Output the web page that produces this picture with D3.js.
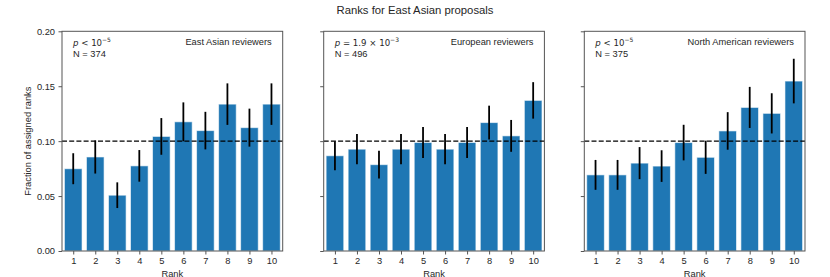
<!DOCTYPE html>
<html>
<head>
<meta charset="utf-8">
<script src="https://cdn.jsdelivr.net/npm/d3@7"></script>
<style>
  body { margin: 0; background: #fff; }
  svg { display: block; font-family: "Liberation Sans", Arial, sans-serif; }
</style>
</head>
<body>
<svg id="chart" width="830" height="277"></svg>
<script>
// ranks 1..10
var ranks = [1, 2, 3, 4, 5, 6, 7, 8, 9, 10];
var yTicks = [0.00, 0.05, 0.10, 0.15, 0.20];

// fraction of assigned ranks, per reviewer group
var eastAsian = [0.0749, 0.0856, 0.0508, 0.0775, 0.1043, 0.1176, 0.1096, 0.1337, 0.1123, 0.1337];
var european = [0.0867, 0.0927, 0.0786, 0.0927, 0.0988, 0.0927, 0.0988, 0.1169, 0.1048, 0.1371];
var northAmerican = [0.0693, 0.0693, 0.0800, 0.0773, 0.0987, 0.0853, 0.1093, 0.1307, 0.1253, 0.1547];

// error bar half heights
var eastAsianErr = [0.0141, 0.0151, 0.0117, 0.0144, 0.0167, 0.0177, 0.0171, 0.0189, 0.0173, 0.0189];
var europeanErr = [0.0132, 0.0137, 0.0126, 0.0137, 0.0141, 0.0137, 0.0141, 0.0154, 0.0145, 0.0166];
var northAmericanErr = [0.0136, 0.0136, 0.0146, 0.0144, 0.0162, 0.0151, 0.0171, 0.0187, 0.0183, 0.0203];

var groupNames = ["East Asian reviewers", "European reviewers", "North American reviewers"];
var pTexts = [["<", "10", "\u22125"], ["=", "1.9 \u00d7 10", "\u22123"], ["<", "10", "\u22125"]];
var counts = [374, 496, 375];
var expected = 0.1;

var panels = [
	{values: eastAsian, errs: eastAsianErr},
	{values: european, errs: europeanErr},
	{values: northAmerican, errs: northAmericanErr}
];

var svg = d3.select("#chart");
var lefts = [62, 323.7, 584.3];
var plotW = 220.7, plotTop = 31.3, plotBottom = 251;
var textColor = "#262626", spineColor = "#555";
var fs = 9.3;

svg.append("text")
	.attr("x", 415).attr("y", 13.5)
	.attr("text-anchor", "middle")
	.attr("font-size", 11.3)
	.attr("fill", textColor)
	.text("Ranks for East Asian proposals");

var y = d3.scaleLinear().domain([0, 0.2]).range([plotBottom, plotTop]);

panels.forEach(function(p, i){
	var x = d3.scaleLinear().domain([0.49, 10.51]).range([0, plotW]);
	var g = svg.append("g").attr("transform", "translate(" + lefts[i] + ",0)");
	var unit = x(2) - x(1);

	g.selectAll("rect.bar")
		.data(p.values)
		.enter()
		.append("rect")
		.attr("class", "bar")
		.attr("x", function(d, j){ return x(ranks[j]) - 0.4 * unit; })
		.attr("width", 0.8 * unit)
		.attr("y", function(d){ return y(d); })
		.attr("height", function(d){ return y(0) - y(d); })
		.attr("fill", "#1f77b4")
		.attr("stroke", "#ffffff")
		.attr("stroke-opacity", 0.6)
		.attr("stroke-width", 1);

	g.selectAll("line.err")
		.data(p.values)
		.enter()
		.append("line")
		.attr("class", "err")
		.attr("x1", function(d, j){ return x(ranks[j]); })
		.attr("x2", function(d, j){ return x(ranks[j]); })
		.attr("y1", function(d, j){ return y(d - p.errs[j]); })
		.attr("y2", function(d, j){ return y(d + p.errs[j]); })
		.attr("stroke", "#000")
		.attr("stroke-width", 1.8);

	g.append("line")
		.attr("x1", 0).attr("x2", plotW)
		.attr("y1", y(expected)).attr("y2", y(expected))
		.attr("stroke", "#000")
		.attr("stroke-width", 1.4)
		.attr("stroke-dasharray", "5,2.2");

	// frame
	g.append("rect")
		.attr("x", 0).attr("y", plotTop)
		.attr("width", plotW).attr("height", plotBottom - plotTop)
		.attr("fill", "none")
		.attr("stroke", spineColor)
		.attr("stroke-width", 1);

	var xAxis = d3.axisBottom(x).tickValues(ranks).tickSize(3.5).tickPadding(3);
	var gx = g.append("g").attr("transform", "translate(0," + plotBottom + ")").call(xAxis);
	var yAxis = d3.axisLeft(y).tickValues(yTicks).tickSize(3.5).tickPadding(3.5)
		.tickFormat(i === 0 ? d3.format(".2f") : function(){ return ""; });
	var gy = g.append("g").call(yAxis);

	[gx, gy].forEach(function(ax){
		ax.select(".domain").remove();
		ax.selectAll(".tick line").attr("stroke", spineColor);
		ax.selectAll(".tick text")
			.attr("fill", textColor)
			.attr("font-size", fs)
			.attr("font-family", "Liberation Sans, Arial, sans-serif");
	});

	g.append("text")
		.attr("x", plotW / 2).attr("y", 276.5)
		.attr("text-anchor", "middle")
		.attr("font-size", fs)
		.attr("fill", textColor)
		.text("Rank");

	// annotations (math part in DejaVu like matplotlib mathtext)
	var t = g.append("text")
		.attr("x", 11).attr("y", 45.5)
		.attr("font-family", "DejaVu Sans")
		.attr("font-size", 8.6)
		.attr("fill", textColor);
	t.append("tspan").attr("font-style", "italic").text("p");
	t.append("tspan").text(" " + pTexts[i][0] + " " + pTexts[i][1]);
	t.append("tspan").attr("dy", -3.6).attr("font-size", 6).text(pTexts[i][2]);

	g.append("text")
		.attr("x", 11).attr("y", 56.7)
		.attr("font-size", fs)
		.attr("fill", textColor)
		.text("N = " + counts[i]);

	g.append("text")
		.attr("x", plotW - 11).attr("y", 45)
		.attr("text-anchor", "end")
		.attr("font-size", fs)
		.attr("fill", textColor)
		.text(groupNames[i]);
});

svg.append("text")
	.attr("transform", "translate(31," + ((plotTop + plotBottom) / 2) + ") rotate(-90)")
	.attr("text-anchor", "middle")
	.attr("font-size", fs)
	.attr("fill", textColor)
	.text("Fraction of assigned ranks");
</script>
</body>
</html>
